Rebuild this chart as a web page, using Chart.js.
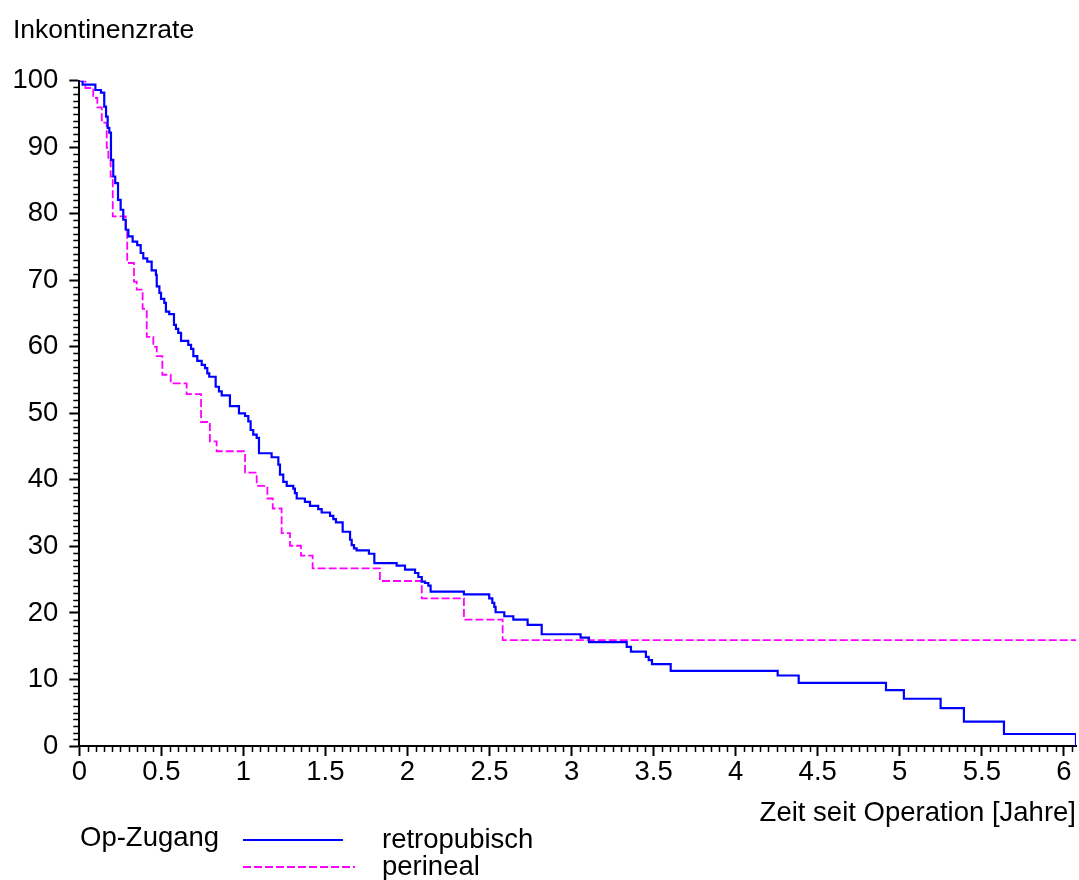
<!DOCTYPE html>
<html>
<head>
<meta charset="utf-8">
<script src="https://cdn.jsdelivr.net/npm/chart.js@4.4.1/dist/chart.umd.min.js"></script>
<style>
  body { margin: 0; background: #fff; }
  #wrap { width: 1079px; height: 880px; }
</style>
</head>
<body>
<div id="wrap"><canvas id="km" width="1079" height="880"></canvas></div>
<script>
// Kaplan-Meier steps: value after the drop at each time (years)
const retroTimes = [0, 0.02, 0.098, 0.132, 0.152, 0.163, 0.173, 0.183, 0.193, 0.207, 0.219, 0.236, 0.252, 0.268, 0.283, 0.299, 0.325, 0.353, 0.374, 0.390, 0.414, 0.441, 0.467, 0.472, 0.488, 0.498, 0.518, 0.528, 0.548, 0.577, 0.589, 0.603, 0.620, 0.664, 0.681, 0.695, 0.719, 0.746, 0.766, 0.780, 0.792, 0.831, 0.851, 0.868, 0.918, 0.973, 1.010, 1.030, 1.044, 1.060, 1.081, 1.095, 1.172, 1.213, 1.223, 1.243, 1.264, 1.304, 1.314, 1.325, 1.375, 1.406, 1.456, 1.477, 1.528, 1.548, 1.564, 1.605, 1.650, 1.660, 1.674, 1.690, 1.765, 1.798, 1.934, 1.985, 2.046, 2.066, 2.087, 2.107, 2.127, 2.141, 2.344, 2.498, 2.517, 2.529, 2.537, 2.590, 2.645, 2.732, 2.818, 3.055, 3.106, 3.336, 3.362, 3.453, 3.470, 3.490, 3.604, 4.256, 4.384, 4.916, 5.025, 5.249, 5.391, 5.635, 6.074];
const retroValues = [100, 99.4, 98.6, 98.2, 96.1, 94.6, 92.9, 92.2, 88.1, 85.6, 84.6, 82.1, 80.6, 79.1, 77.6, 76.6, 75.8, 75.3, 74.1, 73.3, 72.8, 71.5, 70.8, 69.1, 68.1, 67.2, 66.6, 65.3, 64.9, 63.3, 62.7, 62.1, 60.9, 60.3, 59.7, 58.6, 57.9, 57.3, 56.8, 56.0, 55.5, 54.0, 53.3, 52.7, 51.1, 50.0, 49.6, 48.8, 47.5, 46.8, 46.3, 44.0, 43.4, 42.3, 40.8, 39.7, 39.1, 38.7, 38.0, 37.2, 36.7, 36.1, 35.6, 35.1, 34.6, 34.1, 33.6, 32.2, 31.0, 30.2, 29.7, 29.4, 28.9, 27.5, 27.1, 26.5, 26.0, 25.4, 24.7, 24.5, 24.1, 23.2, 22.8, 22.2, 21.5, 20.9, 20.1, 19.5, 19.0, 18.2, 16.8, 16.3, 15.6, 14.9, 14.2, 13.4, 12.9, 12.3, 11.3, 10.6, 9.5, 8.4, 7.1, 5.7, 3.65, 1.8, 0];

const periTimes = [0, 0.037, 0.085, 0.11, 0.137, 0.167, 0.177, 0.191, 0.204, 0.283, 0.292, 0.333, 0.350, 0.386, 0.411, 0.451, 0.472, 0.506, 0.557, 0.654, 0.742, 0.796, 0.837, 1.010, 1.081, 1.146, 1.179, 1.233, 1.284, 1.351, 1.422, 1.832, 2.087, 2.344, 2.580, 6.074];
const periValues = [100, 98.9, 97.4, 96.0, 93.7, 89.9, 88.1, 85.6, 79.6, 77.6, 72.6, 69.8, 68.6, 65.7, 61.5, 60.0, 58.6, 55.8, 54.5, 52.9, 48.7, 45.8, 44.3, 41.1, 39.1, 37.2, 35.7, 32.0, 30.1, 28.6, 26.7, 24.8, 22.2, 19.0, 15.9, 15.9];

const seriesLabels = ['retropubisch', 'perineal'];
const xTickStep = 0.5, xMinorStep = 0.05, xMax = 6.074;
const yTickStep = 10, yMinorStep = 1;

const FONT = 'Liberation Sans, Arial, sans-serif';

function pts(ts, vs) {
  return ts.map((t, i) => ({x: t, y: vs[i]}));
}

// small ticks between the labelled ones, placed through the scales
const minorTicks = {
  id: 'minorTicks',
  afterDraw(chart) {
    const ctx = chart.ctx;
    const xs = chart.scales.x, ys = chart.scales.y;
    ctx.save();
    ctx.strokeStyle = '#000';
    ctx.lineWidth = 1.5;
    ctx.beginPath();
    for (let i = 0; i * xMinorStep <= xMax; i++) {
      if (i % 10 === 0) continue;
      const px = Math.round(xs.getPixelForValue(i * xMinorStep)) + 0.5;
      ctx.moveTo(px, xs.top);
      ctx.lineTo(px, xs.top + 6);
    }
    for (let v = 0; v <= 100; v += yMinorStep) {
      if (v % yTickStep === 0) continue;
      const py = Math.round(ys.getPixelForValue(v)) + 0.5;
      ctx.moveTo(ys.right - 6, py);
      ctx.lineTo(ys.right, py);
    }
    ctx.stroke();
    ctx.restore();
  }
};

// legend block under the axis: group name, line sample, label
const kmLegend = {
  id: 'kmLegend',
  afterDraw(chart) {
    const ctx = chart.ctx;
    ctx.save();
    ctx.font = '27.5px ' + FONT;
    ctx.fillStyle = '#000';
    ctx.textBaseline = 'middle';
    ctx.fillText('Op-Zugang', 80, 838);
    const rows = [{y: 840, x2: 343}, {y: 867, x2: 355}];
    chart.data.datasets.forEach((ds, i) => {
      const r = rows[i];
      ctx.strokeStyle = ds.borderColor;
      ctx.lineWidth = 2;
      ctx.setLineDash(ds.borderDash || []);
      ctx.beginPath();
      ctx.moveTo(243, r.y);
      ctx.lineTo(r.x2, r.y);
      ctx.stroke();
      ctx.setLineDash([]);
      ctx.fillText(ds.label, 382, r.y);
    });
    ctx.restore();
  }
};

new Chart(document.getElementById('km'), {
  type: 'line',
  data: {
    datasets: [{
      label: seriesLabels[0],
      data: pts(retroTimes, retroValues),
      borderColor: '#0000ff',
      borderWidth: 2.2,
      stepped: 'before',
      pointRadius: 0,
      fill: false
    }, {
      label: seriesLabels[1],
      data: pts(periTimes, periValues),
      borderColor: '#ff00ff',
      borderWidth: 1.8,
      borderDash: [8, 3],
      stepped: 'before',
      pointRadius: 0,
      fill: false
    }]
  },
  options: {
    responsive: false,
    animation: false,
    devicePixelRatio: 1,
    layout: {padding: {left: 13, top: 0, right: 3, bottom: 50}},
    plugins: {
      legend: {display: false},
      tooltip: {enabled: false},
      title: {
        display: true,
        text: 'Inkontinenzrate',
        align: 'start',
        color: '#000',
        font: {family: FONT, size: 26.5, weight: 'normal'},
        padding: {top: 15, bottom: 33.9}
      }
    },
    scales: {
      x: {
        type: 'linear',
        min: 0,
        max: xMax,
        afterFit(s) { s.height = 84; },
        border: {display: true, color: '#000', width: 2},
        grid: {drawOnChartArea: false, drawTicks: true, tickLength: 10, tickWidth: 2, tickColor: '#000'},
        ticks: {
          stepSize: xTickStep,
          includeBounds: false,
          color: '#000',
          padding: 0,
          maxRotation: 0,
          font: {family: FONT, size: 27.5},
          callback: v => String(v)
        },
        title: {
          display: true,
          text: 'Zeit seit Operation [Jahre]',
          align: 'end',
          color: '#000',
          font: {family: FONT, size: 27.5},
          padding: {top: 0, bottom: 0.5}
        }
      },
      y: {
        min: 0,
        max: 100,
        afterFit(s) { s.width = 66.3; },
        border: {display: true, color: '#000', width: 2},
        grid: {drawOnChartArea: false, drawTicks: true, tickLength: 10, tickWidth: 2, tickColor: '#000'},
        ticks: {
          stepSize: yTickStep,
          color: '#000',
          padding: 11,
          font: {family: FONT, size: 27.5}
        }
      }
    }
  },
  plugins: [minorTicks, kmLegend]
});
</script>
</body>
</html>
